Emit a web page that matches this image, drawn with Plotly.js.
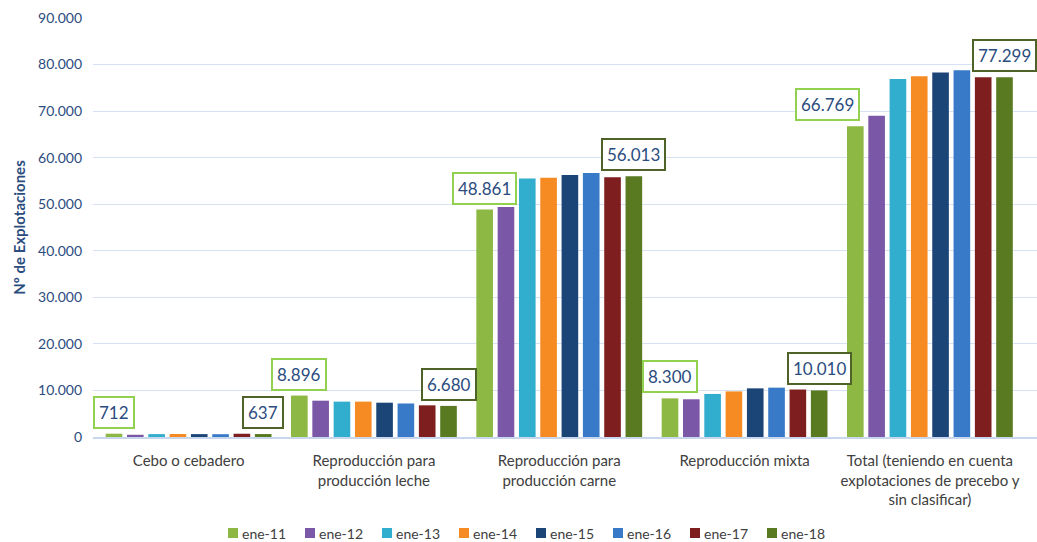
<!DOCTYPE html>
<html>
<head>
<meta charset="utf-8">
<script src="https://cdn.plot.ly/plotly-3.0.1.min.js"></script>
<style>
html,body{margin:0;padding:0;background:#fff;}
#chart{width:1037px;height:542px;}
</style>
</head>
<body>
<div id="chart"></div>
<script>
const categories = [
  "Cebo o cebadero",
  "Reproducción para<br>producción leche",
  "Reproducción para<br>producción carne",
  "Reproducción mixta",
  "Total (teniendo en cuenta<br>explotaciones de precebo y<br>sin clasificar)"
];
const seriesNames = ["ene-11","ene-12","ene-13","ene-14","ene-15","ene-16","ene-17","ene-18"];
const ene11 = [712, 8896, 48861, 8300, 66769];
const ene12 = [480, 7800, 49400, 8100, 69000];
const ene13 = [620, 7600, 55500, 9250, 76900];
const ene14 = [640, 7600, 55700, 9800, 77500];
const ene15 = [620, 7370, 56300, 10450, 78300];
const ene16 = [600, 7200, 56700, 10600, 78800];
const ene17 = [700, 6800, 55800, 10200, 77300];
const ene18 = [637, 6680, 56013, 10010, 77299];
const seriesValues = [ene11, ene12, ene13, ene14, ene15, ene16, ene17, ene18];
const colors = ["#8DB844","#7B57A8","#31ADCD","#F68B23","#1C4577","#3879C8","#7E1E1E","#5A7A22"];
const yTicks = [0,10000,20000,30000,40000,50000,60000,70000,80000,90000];

const W = 1037, H = 542;
const M = {l: 93, r: 0, t: 18, b: 105};
const plotW = W - M.l - M.r, plotH = H - M.t - M.b;

const bargap = 0.08;
const groupShare = (1 - bargap);
const slotOffset = groupShare/2 - groupShare/(2*seriesNames.length);

const traces = seriesNames.map((name, i) => ({
  type: 'bar',
  name: name,
  x: categories,
  y: seriesValues[i],
  marker: {color: colors[i]},
  hoverinfo: 'skip',
  showlegend: false
}));

function fmt(v){ return v.toString().replace(/\B(?=(\d{3})+(?!\d))/g, "."); }

const labelFont = {family: 'Lato, "Open Sans", sans-serif', size: 17, color: '#2B4C7E'};
const annotations = [];
categories.forEach((c, ci) => {
  annotations.push({
    x: ci - slotOffset, y: ene11[ci], xref: 'x', yref: 'y',
    text: fmt(ene11[ci]), showarrow: false, yanchor: 'bottom', yshift: 5,
    xshift: ci === 4 ? -28 : 0,
    font: labelFont,
    bgcolor: '#ffffff', bordercolor: '#92D050', borderwidth: 2, borderpad: 4
  });
  annotations.push({
    x: ci + slotOffset, y: ene18[ci], xref: 'x', yref: 'y',
    text: fmt(ene18[ci]), showarrow: false, yanchor: 'bottom', yshift: 5,
    font: labelFont,
    bgcolor: '#ffffff', bordercolor: '#4F6228', borderwidth: 2, borderpad: 4
  });
});

// custom legend (small square swatches, compact spacing)
const px2x = px => (px - M.l) / plotW;
const py2y = py => (H - M.b - py) / plotH;
const legStart = 228, legPitch = 77, legY = 533, sw = 10;
const shapes = [];
seriesNames.forEach((name, i) => {
  const x0 = legStart + i * legPitch;
  shapes.push({
    type: 'rect', xref: 'paper', yref: 'paper',
    x0: px2x(x0), x1: px2x(x0 + sw), y0: py2y(legY + sw/2), y1: py2y(legY - sw/2),
    fillcolor: colors[i], line: {width: 0}
  });
  annotations.push({
    xref: 'paper', yref: 'paper', x: px2x(x0 + sw + 2), y: py2y(legY),
    xanchor: 'left', yanchor: 'middle', showarrow: false, text: name,
    font: {family: 'Lato, "Open Sans", sans-serif', size: 14, color: '#404040'}
  });
});

const layout = {
  width: W, height: H,
  margin: {l: M.l, r: M.r, t: M.t, b: M.b, autoexpand: false},
  paper_bgcolor: '#ffffff', plot_bgcolor: '#ffffff',
  separators: ',.',
  barmode: 'group',
  bargap: bargap,
  bargroupgap: 0.22,
  font: {family: 'Lato, "Open Sans", sans-serif', color: '#404040'},
  xaxis: {
    type: 'category',
    automargin: false,
    tickfont: {size: 15, color: '#404040'},
    ticklabelstandoff: 9,
    showgrid: false, ticks: '', showline: true, linecolor: '#C9D7EE', linewidth: 2,
    zeroline: false, fixedrange: true
  },
  yaxis: {
    range: [0, 90000],
    automargin: false,
    tickvals: yTicks,
    tickformat: ',d',
    tickfont: {size: 14, color: '#2B4C7E'},
    ticklabelstandoff: 10,
    gridcolor: '#D6E2F3', gridwidth: 1,
    zeroline: false, showline: false, ticks: '',
    title: {text: '<b>Nº de Explotaciones</b>', font: {size: 15, color: '#2B4C7E'}, standoff: 8},
    fixedrange: true
  },
  shapes: shapes,
  annotations: annotations,
  showlegend: false
};

Plotly.newPlot('chart', traces, layout, {displayModeBar: false, staticPlot: true});
</script>
</body>
</html>
